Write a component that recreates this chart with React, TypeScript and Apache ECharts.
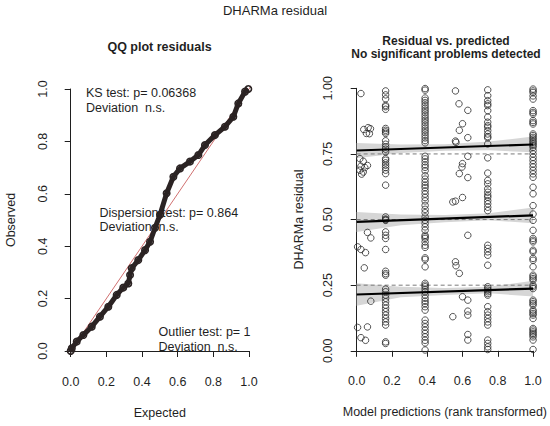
import React, { useEffect, useRef } from "react";
import * as echarts from "echarts";

// ---------- QQ plot (left) ----------
const qqExpected = [0.0, 0.006, 0.034, 0.071, 0.118, 0.164, 0.211, 0.258, 0.295, 0.323, 0.333, 0.342, 0.379, 0.417, 0.445, 0.473, 0.501, 0.538, 0.576, 0.613, 0.669, 0.716, 0.753, 0.809, 0.865, 0.912, 0.94, 0.978, 0.996];
const qqObserved = [0.0, 0.010, 0.036, 0.061, 0.093, 0.131, 0.169, 0.214, 0.242, 0.258, 0.290, 0.316, 0.347, 0.385, 0.417, 0.47, 0.52, 0.602, 0.665, 0.697, 0.723, 0.748, 0.786, 0.824, 0.856, 0.894, 0.945, 0.99, 1.0];
const qqRange = [-0.04, 1.04];

// ---------- Residual vs predicted (right) ----------
const columnX = [0.164, 0.388, 0.743, 1.0];
const resid164 = [0.99, 0.975, 0.96, 0.935, 0.93, 0.92, 0.847, 0.84, 0.834, 0.828, 0.8, 0.787, 0.777, 0.768, 0.758, 0.732, 0.726, 0.716, 0.707, 0.698, 0.688, 0.675, 0.631, 0.51, 0.502, 0.499, 0.497, 0.453, 0.44, 0.428, 0.386, 0.303, 0.294, 0.288, 0.235, 0.225, 0.212, 0.2, 0.187, 0.174, 0.162, 0.149, 0.136, 0.123, 0.11, 0.098, 0.034, 0.028];
const resid388 = [0.999, 0.993, 0.963, 0.954, 0.945, 0.935, 0.925, 0.916, 0.907, 0.897, 0.887, 0.878, 0.869, 0.859, 0.849, 0.84, 0.831, 0.821, 0.811, 0.801, 0.792, 0.741, 0.731, 0.72, 0.708, 0.699, 0.686, 0.667, 0.654, 0.642, 0.631, 0.622, 0.609, 0.597, 0.584, 0.571, 0.554, 0.539, 0.526, 0.51, 0.497, 0.485, 0.472, 0.459, 0.44, 0.434, 0.428, 0.415, 0.402, 0.394, 0.354, 0.348, 0.32, 0.257, 0.25, 0.244, 0.235, 0.225, 0.212, 0.2, 0.189, 0.18, 0.168, 0.155, 0.117, 0.104, 0.091, 0.078, 0.066, 0.053, 0.04, 0.03, 0.003];
const resid743 = [0.994, 0.972, 0.953, 0.941, 0.934, 0.915, 0.89, 0.871, 0.858, 0.852, 0.839, 0.826, 0.816, 0.811, 0.788, 0.735, 0.677, 0.649, 0.636, 0.617, 0.604, 0.592, 0.585, 0.572, 0.56, 0.547, 0.534, 0.402, 0.39, 0.377, 0.364, 0.326, 0.244, 0.237, 0.231, 0.225, 0.218, 0.212, 0.168, 0.149, 0.136, 0.123, 0.11, 0.098, 0.041, 0.028, 0.015, 0.005];
const resid100 = [0.997, 0.99, 0.984, 0.971, 0.959, 0.915, 0.908, 0.902, 0.877, 0.87, 0.864, 0.826, 0.82, 0.813, 0.807, 0.8, 0.794, 0.788, 0.782, 0.775, 0.763, 0.75, 0.737, 0.725, 0.712, 0.7, 0.687, 0.674, 0.661, 0.623, 0.598, 0.553, 0.521, 0.497, 0.459, 0.428, 0.421, 0.415, 0.383, 0.377, 0.352, 0.345, 0.32, 0.288, 0.282, 0.275, 0.269, 0.25, 0.244, 0.237, 0.193, 0.187, 0.18, 0.174, 0.155, 0.149, 0.142, 0.136, 0.123, 0.085, 0.079, 0.072, 0.066, 0.06, 0.053, 0.041, 0.005];
const lowPredPoints: [number, number][] = [
  [0.024, 0.98], [0.04, 0.843], [0.065, 0.85], [0.078, 0.846], [0.055, 0.828], [0.072, 0.827],
  [0.018, 0.732], [0.037, 0.722], [0.024, 0.703], [0.046, 0.698], [0.018, 0.688], [0.037, 0.681], [0.061, 0.706], [0.028, 0.673],
  [0.061, 0.451], [0.08, 0.43], [0.005, 0.396], [0.024, 0.386], [0.05, 0.374], [0.043, 0.316], [0.08, 0.189],
  [0.005, 0.089], [0.061, 0.091], [0.024, 0.05], [0.05, 0.04],
];
const midPredPoints: [number, number][] = [
  [0.56, 0.99], [0.58, 0.941], [0.63, 0.916], [0.6, 0.865], [0.582, 0.84], [0.63, 0.812], [0.56, 0.799], [0.563, 0.794],
  [0.63, 0.741], [0.6, 0.713], [0.597, 0.7], [0.582, 0.675], [0.63, 0.66], [0.6, 0.584], [0.56, 0.57], [0.545, 0.567],
  [0.63, 0.44], [0.56, 0.339], [0.563, 0.324], [0.582, 0.295], [0.6, 0.206], [0.63, 0.193], [0.63, 0.151], [0.63, 0.136],
  [0.545, 0.13], [0.63, 0.062], [0.63, 0.041],
];
const fitX = [0, 1];
const fitUpper = [0.763, 0.786];
const fitMiddle = [0.491, 0.516];
const fitLower = [0.2145, 0.237];
const bandX = [0, 0.25, 0.5, 0.75, 1];
const bandUpperLo = [0.734, 0.754, 0.762, 0.764, 0.756];
const bandUpperHi = [0.792, 0.786, 0.787, 0.797, 0.816];
const bandMiddleLo = [0.453, 0.478, 0.49, 0.497, 0.486];
const bandMiddleHi = [0.529, 0.519, 0.517, 0.524, 0.546];
const bandLowerLo = [0.172, 0.204, 0.213, 0.219, 0.207];
const bandLowerHi = [0.257, 0.244, 0.239, 0.244, 0.267];
const refLevels = [0.25, 0.5, 0.75];
const boxRange = [-0.04, 1.04];

const FONT = "'Liberation Sans', Arial, Helvetica, sans-serif";
const INK = "#1f1f1f";

function axisCommon() {
  return {
    type: "value" as const,
    min: 0,
    max: 1,
    axisLine: { show: true, lineStyle: { color: INK, width: 1 } },
    axisTick: { show: true, length: 6, inside: false, lineStyle: { color: INK } },
    splitLine: { show: false },
    nameLocation: "middle" as const,
    nameTextStyle: { fontFamily: FONT, fontSize: 12.5, color: INK },
  };
}

function bandSeries(lo: number[], hi: number[]) {
  return {
    type: "custom",
    xAxisIndex: 1,
    yAxisIndex: 1,
    silent: true,
    z: 1,
    data: [0],
    renderItem: (_p: any, api: any) => {
      const pts: number[][] = [];
      for (let i = 0; i < bandX.length; i++) pts.push(api.coord([bandX[i], hi[i]]));
      for (let i = bandX.length - 1; i >= 0; i--) pts.push(api.coord([bandX[i], lo[i]]));
      return { type: "polygon", shape: { points: pts }, style: { fill: "#d6d6d6", stroke: "none" } };
    },
  };
}

function fitSeries(vals: number[]) {
  return {
    type: "line",
    xAxisIndex: 1,
    yAxisIndex: 1,
    data: fitX.map((x, i) => [x, vals[i]]),
    symbol: "none",
    lineStyle: { color: "#000", width: 2.2 },
    z: 4,
    silent: true,
  };
}

export default function App() {
  const ref = useRef<HTMLDivElement>(null);
  useEffect(() => {
    if (!ref.current) return;
    const chart = echarts.init(ref.current, undefined, { renderer: "svg" });
    const scatterData: [number, number][] = [];
    [resid164, resid388, resid743, resid100].forEach((col, ci) => {
      col.forEach((v) => scatterData.push([columnX[ci], v]));
    });
    lowPredPoints.forEach((p) => scatterData.push(p));
    midPredPoints.forEach((p) => scatterData.push(p));

    const labelStyle = { fontFamily: FONT, fontSize: 12.5, color: INK };
    const txt = (text: string, x: number, y: number, opts: any = {}) => ({
      type: "text",
      x,
      y,
      z: 10,
      style: {
        text,
        fontFamily: FONT,
        fontSize: 12.5,
        fill: INK,
        textAlign: "left",
        textVerticalAlign: "middle",
        ...opts,
      },
    });

    chart.setOption({
      animation: false,
      backgroundColor: "#fff",
      grid: [
        { left: 70.7, top: 89, width: 178.3, height: 262 },
        { left: 356.7, top: 88.3, width: 178.6, height: 262.5 },
      ],
      xAxis: [
        {
          ...axisCommon(),
          gridIndex: 0,
          interval: 0.2,
          offset: 11,
          axisLabel: { ...labelStyle, margin: 13, formatter: (v: number) => v.toFixed(1) },
          name: "Expected",
          nameGap: 44,
        },
        {
          ...axisCommon(),
          gridIndex: 1,
          interval: 0.2,
          offset: 11,
          axisLabel: { ...labelStyle, margin: 13, formatter: (v: number) => v.toFixed(1) },
          name: "Model predictions (rank transformed)",
          nameGap: 44,
        },
      ],
      yAxis: [
        {
          ...axisCommon(),
          gridIndex: 0,
          interval: 0.2,
          offset: 7,
          axisLabel: { ...labelStyle, rotate: 90, margin: 14, formatter: (v: number) => v.toFixed(1) },
          name: "Observed",
          nameGap: 46,
        },
        {
          ...axisCommon(),
          gridIndex: 1,
          interval: 0.25,
          offset: 8,
          axisLabel: { ...labelStyle, rotate: 90, margin: 14, formatter: (v: number) => v.toFixed(2) },
          name: "DHARMa residual",
          nameGap: 43,
        },
      ],
      series: [
        {
          type: "line",
          xAxisIndex: 0,
          yAxisIndex: 0,
          data: qqRange.map((v) => [v, v]),
          symbol: "none",
          lineStyle: { color: "#d07070", width: 1 },
          clip: false,
          z: 2,
          silent: true,
        },
        {
          type: "line",
          xAxisIndex: 0,
          yAxisIndex: 0,
          data: qqExpected.map((x, i) => [x, qqObserved[i]]),
          symbol: "circle",
          symbolSize: 6.5,
          showAllSymbol: true,
          lineStyle: { color: "#2b2323", width: 5 },
          itemStyle: { color: "rgba(0,0,0,0)", borderColor: "#2b2323", borderWidth: 1.6 },
          clip: false,
          z: 3,
          silent: true,
        },
        bandSeries(bandUpperLo, bandUpperHi),
        bandSeries(bandMiddleLo, bandMiddleHi),
        bandSeries(bandLowerLo, bandLowerHi),
        ...refLevels.map((lv) => ({
          type: "line",
          xAxisIndex: 1,
          yAxisIndex: 1,
          data: boxRange.map((x) => [x, lv]),
          symbol: "none",
          lineStyle: { color: "#7a7a7a", width: 1, type: [4, 3] },
          clip: false,
          z: 2,
          silent: true,
        })),
        {
          type: "scatter",
          xAxisIndex: 1,
          yAxisIndex: 1,
          data: scatterData,
          symbol: "circle",
          symbolSize: 6.5,
          itemStyle: { color: "rgba(255,255,255,0)", borderColor: "#2a2a2a", borderWidth: 1 },
          clip: false,
          z: 3,
          silent: true,
        },
        fitSeries(fitUpper),
        fitSeries(fitMiddle),
        fitSeries(fitLower),
      ],
      graphic: [
        txt("DHARMa residual", 275, 10, { textAlign: "center", fontSize: 13 }),
        txt("QQ plot residuals", 159.5, 47, { textAlign: "center", fontWeight: "bold", fontSize: 12.5 }),
        txt("Residual vs. predicted", 446, 41, { textAlign: "center", fontWeight: "bold", fontSize: 12 }),
        txt("No significant problems detected", 446, 53.5, { textAlign: "center", fontWeight: "bold", fontSize: 12 }),
        txt("KS test: p= 0.06368", 86, 92.5),
        txt("Deviation  n.s.", 86, 107.5),
        txt("Dispersion test: p= 0.864", 99.5, 212.5),
        txt("Deviation  n.s.", 99.5, 227),
        txt("Outlier test: p= 1", 158.5, 331.5),
        txt("Deviation  n.s.", 158.5, 346.5),
      ],
    });
    return () => chart.dispose();
  }, []);
  return <div ref={ref} style={{ position: "absolute", left: 0, top: 0, width: 550, height: 426 }} />;
}
